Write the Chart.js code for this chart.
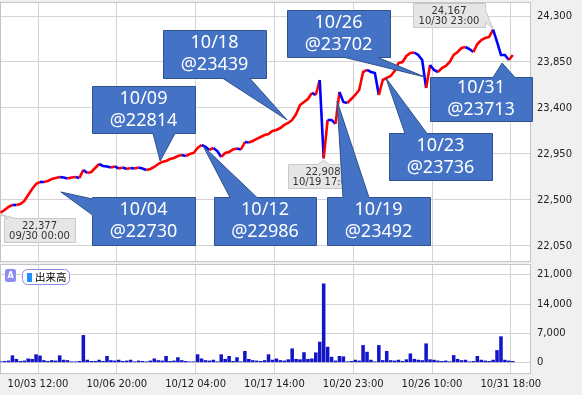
<!DOCTYPE html>
<html><head><meta charset="utf-8">
<script src="https://cdn.jsdelivr.net/npm/chart.js@4"></script>
<style>
html,body{margin:0;padding:0;background:#f0f0f0;}
#wrap{position:relative;width:582px;height:395px;overflow:hidden;background:#f0f0f0;}
#c1{position:absolute;left:0;top:0;}
#c2{position:absolute;left:0;top:263px;}
</style></head>
<body><div id="wrap">
<canvas id="c1" width="582" height="263" style="width:582px;height:263px"></canvas>
<canvas id="c2" width="582" height="132" style="width:582px;height:132px"></canvas>
</div>
<script>
// ---- data ----
const timeLabels = ['10/03 12:00','10/06 20:00','10/12 04:00','10/17 14:00','10/20 23:00','10/26 10:00','10/31 18:00'];
const timeTickIdx = [9.5, 29.5, 49.5, 69.5, 89.5, 109.5, 129.5];
const priceTicks = [22050, 22500, 22950, 23400, 23850, 24300];
const volumeTicks = [0, 7000, 14000, 21000];
const price = [
22377,22402,22432,22451,22451,22461,22490,22549,22608,22657,
22676,22676,22686,22705,22715,22725,22720,22710,22720,22725,
22715,22794,22764,22774,22813,22852,22833,22828,22818,22828,
22808,22818,22803,22813,22808,22818,22808,22794,22803,22823,
22852,22872,22882,22901,22911,22930,22940,22930,22950,22960,
23009,23038,23019,22989,23009,22979,22921,22960,22970,22994,
23004,22994,23067,23062,23077,23097,23116,23136,23146,23175,
23185,23204,23234,23253,23283,23341,23429,23459,23488,23547,
23527,23674,22908,23283,23283,23244,23557,23459,23449,23488,
23527,23576,23752,23772,23752,23742,23527,23674,23694,23713,
23762,23840,23850,23909,23938,23943,23919,23870,23596,23821,
23772,23752,23791,23811,23850,23919,23948,23987,23997,23977,
23948,24026,24065,24085,24095,24167,24046,23919,23919,23870,
23919];
const volume = [
300,400,500,1750,900,400,500,1000,900,2000,
1700,600,400,600,500,1750,700,600,300,300,
400,6600,700,400,400,700,400,1600,600,500,
700,400,500,700,300,500,400,300,500,1000,
600,500,1600,400,500,1300,600,400,300,300,
2000,1000,600,500,700,300,2000,900,1600,400,
1300,300,2800,900,600,500,400,600,2000,700,
1000,600,500,800,3400,900,800,2500,900,1000,
2450,5000,18900,3800,1400,500,1600,1500,300,400,
700,500,4200,2600,700,300,4200,600,2800,600,
500,700,400,800,2200,900,700,600,4600,800,
700,500,400,500,300,1800,900,600,700,300,
400,1600,700,500,400,700,3000,6300,700,500,
400];
// callout annotations
const calloutDate  = ['10/18','10/09','10/04','10/12','10/19','10/23','10/26','10/31'];
const calloutPrice = ['@23439','@22814','@22730','@22986','@23492','@23736','@23702','@23713'];
const calloutTipIdx = [72.7, 40.5, 15.3, 51.4, 85.4, 97.8, 107.7, 127.3];
const calloutTipVal = [23283, 22882, 22578, 23028, 23468, 23694, 23703, 23840];
// extreme point labels
const extremeIdx = [0, 82, 125];
const extremeTime = ['09/30 00:00','10/19 17:00','10/30 23:00'];

// ---- layout / style ----
const GRID = '#d4d4d4';
const calloutLayout = [
  [163,30,103,48,'bottom',223,250],
  [92,86,103,47,'bottom',153,175],
  [92,197,103,48,'left',199,215],
  [214,197,102,48,'top',230,257],
  [327,197,103,48,'top',343,369],
  [389,133,103,47,'top',405,427],
  [287,10,103,47,'bottom',345,378],
  [430,77,102,44,'top',493,515]
];
const extremeLayout = [
  [4,218,71,24,'top',7,15, 0,0],
  [288,164,70,24,'top',317,329, 0,0],
  [413,3,72,24,'right',10,22, 0,-1]
];
const X_MIN = -0.152, X_MAX = 134.62;

Chart.defaults.font.family = 'DejaVu Sans';
Chart.defaults.font.size = 10;

function shapePath(ctx, x, y, w, h, side, a, b, tx, ty) {
  ctx.beginPath();
  ctx.moveTo(x, y);
  if (side === 'top') { ctx.lineTo(a, y); ctx.lineTo(tx, ty); ctx.lineTo(b, y); }
  ctx.lineTo(x + w, y);
  if (side === 'right') { ctx.lineTo(x + w, a); ctx.lineTo(tx, ty); ctx.lineTo(x + w, b); }
  ctx.lineTo(x + w, y + h);
  if (side === 'bottom') { ctx.lineTo(b, y + h); ctx.lineTo(tx, ty); ctx.lineTo(a, y + h); }
  ctx.lineTo(x, y + h);
  if (side === 'left') { ctx.lineTo(x, b); ctx.lineTo(tx, ty); ctx.lineTo(x, a); }
  ctx.closePath();
}

const bgPlugin = {
  id: 'bg',
  beforeDraw(chart) {
    const {ctx, chartArea: a} = chart;
    ctx.save();
    ctx.fillStyle = '#f0f0f0';
    ctx.fillRect(0, 0, chart.width, chart.height);
    ctx.fillStyle = '#ffffff';
    ctx.fillRect(a.left, a.top, a.right - a.left, a.bottom - a.top);
    ctx.restore();
  },
  beforeDatasetsDraw(chart) {
    const {ctx, chartArea: a} = chart;
    ctx.save();
    ctx.strokeStyle = '#c4c4c4';
    ctx.lineWidth = 1;
    ctx.strokeRect(a.left + 0.5, a.top + 0.5, a.right - a.left - 1, a.bottom - a.top);
    ctx.restore();
  }
};

const annoPlugin = {
  id: 'anno',
  afterDraw(chart) {
    const ctx = chart.ctx, xs = chart.scales.x, ys = chart.scales.y;
    ctx.save();
    extremeIdx.forEach((idx, k) => {
      const [x, y, w, h, side, a, b, ox, oy] = extremeLayout[k];
      const tx = xs.getPixelForValue(idx) + ox, ty = ys.getPixelForValue(price[idx]) + oy + (side === 'top' ? 2 : 0);
      shapePath(ctx, x + 0.5, y + 0.5, w, h, side, a + 0.5, b + 0.5, tx, ty);
      ctx.fillStyle = '#e6e6e6';
      ctx.fill();
      ctx.strokeStyle = '#c8c8c8';
      ctx.lineWidth = 1;
      ctx.stroke();
      ctx.fillStyle = '#333333';
      ctx.font = '10px "DejaVu Sans"';
      ctx.textAlign = 'center';
      ctx.textBaseline = 'middle';
      ctx.fillText(price[idx].toLocaleString('en-US'), x + w / 2, y + 8);
      ctx.fillText(extremeTime[k], x + w / 2, y + 18);
    });
    calloutDate.forEach((d, k) => {
      const [x, y, w, h, side, a, b] = calloutLayout[k];
      const tx = xs.getPixelForValue(calloutTipIdx[k]);
      const ty = ys.getPixelForValue(calloutTipVal[k]);
      shapePath(ctx, x + 0.5, y + 0.5, w, h, side, a, b, tx, ty);
      ctx.fillStyle = '#4472c4';
      ctx.fill();
      ctx.strokeStyle = '#2f528f';
      ctx.lineWidth = 1;
      ctx.stroke();
      ctx.fillStyle = '#ffffff';
      ctx.font = '18px "Noto Sans"';
      ctx.textAlign = 'center';
      ctx.textBaseline = 'middle';
      ctx.fillText(d, x + w / 2, y + h / 2 - 11);
      ctx.fillText(calloutPrice[k], x + w / 2, y + h / 2 + 11);
    });
    ctx.restore();
  }
};

const legendPlugin = {
  id: 'vleg',
  afterDraw(chart) {
    const ctx = chart.ctx;
    ctx.save();
    ctx.fillStyle = '#8e8ef0';
    ctx.beginPath();
    ctx.roundRect(5, 6, 11, 13, 2);
    ctx.fill();
    ctx.fillStyle = '#ffffff';
    ctx.font = 'bold 8px "DejaVu Sans"';
    ctx.textAlign = 'center';
    ctx.textBaseline = 'middle';
    ctx.fillText('A', 10.5, 12.5);
    ctx.beginPath();
    ctx.roundRect(22.5, 6.5, 47, 15, 5);
    ctx.fillStyle = '#ffffff';
    ctx.fill();
    ctx.strokeStyle = '#8a8ae8';
    ctx.lineWidth = 1;
    ctx.stroke();
    ctx.fillStyle = '#1e8fff';
    ctx.fillRect(27, 10, 5, 9);
    ctx.fillStyle = '#000000';
    ctx.font = '10.5px "Noto Sans CJK JP"';
    ctx.textAlign = 'left';
    ctx.textBaseline = 'middle';
    ctx.fillText('出来高', 35, 14.5);
    ctx.restore();
  }
};

const xCommon = {
  type: 'linear', min: X_MIN, max: X_MAX, offset: false,
  grid: {color: GRID, drawTicks: false, offset: false},
  border: {display: false},
  afterBuildTicks: s => { s.ticks = timeTickIdx.map(v => ({value: v})); }
};

new Chart(document.getElementById('c1'), {
  type: 'line',
  data: {
    datasets: [{
      data: price.map((v, i) => ({x: i, y: v})),
      borderWidth: 2.6,
      pointRadius: 0,
      tension: 0,
      borderColor: '#0000ff',
      segment: {borderColor: c => c.p1.parsed.y > c.p0.parsed.y ? '#ff0000' : '#0000ff'}
    }]
  },
  options: {
    responsive: false, animation: false,
    layout: {padding: {top: 2, bottom: 2, left: 0, right: 0}},
    plugins: {legend: {display: false}, tooltip: {enabled: false}},
    scales: {
      x: Object.assign({}, xCommon, {ticks: {display: false},
        afterFit: s => { s.height = 0; s.paddingLeft = 0; s.paddingRight = 0; }}),
      y: {
        position: 'right', min: 21903, max: 24437,
        afterBuildTicks: s => { s.ticks = priceTicks.map(v => ({value: v})); },
        afterFit: s => { s.width = 51; s.paddingTop = 0; s.paddingBottom = 0; },
        ticks: {padding: 6, color: '#222', callback: v => v.toLocaleString('en-US')},
        grid: {color: GRID, drawTicks: false},
        border: {display: false}
      }
    }
  },
  plugins: [bgPlugin, annoPlugin]
});

new Chart(document.getElementById('c2'), {
  type: 'bar',
  data: {
    datasets: [{
      data: volume.map((v, i) => ({x: i, y: v})),
      backgroundColor: '#1414c8',
      borderWidth: 0,
      barPercentage: 0.9,
      categoryPercentage: 1
    }]
  },
  options: {
    responsive: false, animation: false,
    layout: {padding: {top: 1, bottom: 0, left: 0, right: 0}},
    plugins: {legend: {display: false}, tooltip: {enabled: false}},
    scales: {
      x: Object.assign({}, xCommon, {
        ticks: {display: true, autoSkip: false, maxRotation: 0, padding: 5, color: '#222',
                callback: (v, i) => timeLabels[i]},
        afterFit: s => { s.height = 22; s.paddingLeft = 0; s.paddingRight = 0; }
      }),
      y: {
        position: 'right', min: -2460, max: 23550,
        afterBuildTicks: s => { s.ticks = volumeTicks.map(v => ({value: v})); },
        afterFit: s => { s.width = 51; s.paddingTop = 0; s.paddingBottom = 0; },
        ticks: {padding: 6, color: '#222', callback: v => v.toLocaleString('en-US')},
        grid: {color: GRID, drawTicks: false},
        border: {display: false}
      }
    }
  },
  plugins: [bgPlugin, legendPlugin]
});
</script>
</body></html>
